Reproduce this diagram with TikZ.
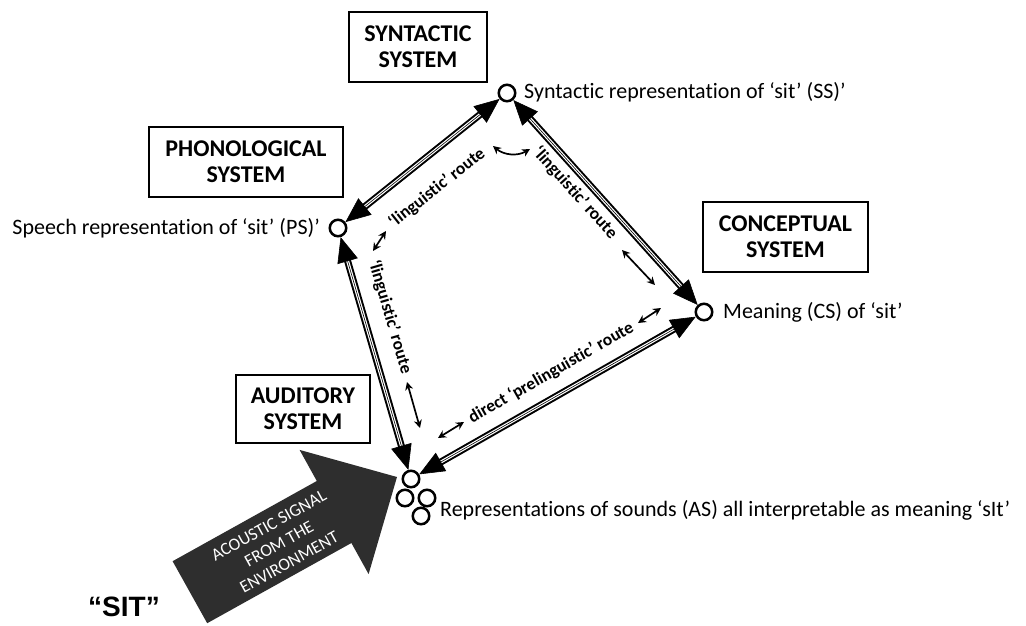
\documentclass[tikz,border=0pt]{standalone}
\usepackage{fontspec}
\setmainfont{Carlito}[Ligatures={TeX,NoCommon}]
\newfontfamily\heavyfont{Liberation Sans}
\usetikzlibrary{arrows.meta}
\begin{document}
\begin{tikzpicture}[x=1pt,y=-1pt,
  sysbox/.style={draw, line width=2, inner sep=0pt, align=center,
    font=\bfseries\fontsize{24}{26}\selectfont},
  circ/.style={circle, draw, line width=2.5, minimum size=16.5, inner sep=0pt, fill=white},
  reptext/.style={inner sep=0pt, font=\fontsize{22}{24}\selectfont},
  routetext/.style={inner sep=0pt, font=\bfseries\fontsize{17.5}{20}\selectfont},
  dblline/.style={line width=2, double=white, double distance=3, shorten <=20, shorten >=20},
  bigtips/.style={line width=0.6, {Triangle[length=25,width=21]}-{Triangle[length=25,width=21]}},
  smallarr/.style={line width=1.7, {Stealth[length=8,width=8]}-{Stealth[length=8,width=8]}}
]
\useasboundingbox (0,0) rectangle (1026,625);

% system boxes
\node[sysbox, minimum width=138, minimum height=70] (synbox) at (418,47) {SYNTACTIC\\SYSTEM};
\node[sysbox, minimum width=194, minimum height=70] (phobox) at (246,162) {PHONOLOGICAL\\SYSTEM};
\node[sysbox, minimum width=165, minimum height=70] (conbox) at (785.5,237) {CONCEPTUAL\\SYSTEM};
\node[sysbox, minimum width=134, minimum height=68] (audbox) at (303,409) {AUDITORY\\SYSTEM};

% representation circles
\node[circ] (ss) at (507,93) {};
\node[circ] (ps) at (338,228) {};
\node[circ] (cs) at (704,312) {};
\node[circ] (as1) at (411,479) {};
\node[circ] (as2) at (405,498) {};
\node[circ] (as3) at (427,498) {};
\node[circ] (as4) at (421,516) {};

% representation texts
\node[reptext, anchor=west] (sstext) at (524,92) {Syntactic representation of ‘sit’ (SS)’};
\node[reptext, anchor=east] (pstext) at (320,228) {Speech representation of ‘sit’ (PS)’};
\node[reptext, anchor=west] (cstext) at (723,312) {Meaning (CS) of ‘sit’};
\node[reptext, anchor=west] (astext) at (440,510) {Representations of sounds (AS) all interpretable as meaning ‘sIt’};

% double-line connectors
\draw[dblline] (ps) -- (ss);
\draw[dblline] (ss) -- (cs);
\draw[dblline] (ps) -- (as1);
\draw[dblline] (cs) -- (as1);
\draw[bigtips] (ps) -- (ss);
\draw[bigtips] (ss) -- (cs);
\draw[bigtips] (ps) -- (as1);
\draw[bigtips] (cs) -- (as1);

% route labels
\node[routetext, rotate=38.2] (r1) at (437,188) {‘linguistic’ route};
\node[routetext, rotate=-48] (r2) at (575,193) {‘linguistic’ route};
\node[routetext, rotate=-73.6] (r3) at (390,317) {‘linguistic’ route};
\node[routetext, rotate=29.7] (r4) at (551,373) {direct ‘prelinguistic’ route};

% small two-headed arrows
\coordinate (a1s) at (493,146); \coordinate (a1e) at (530,149);
\coordinate (a2s) at (373,251); \coordinate (a2e) at (386,231);
\coordinate (a3s) at (407,382); \coordinate (a3e) at (420,428);
\coordinate (a4s) at (438,438); \coordinate (a4e) at (464,422);
\coordinate (a5s) at (622,250); \coordinate (a5e) at (655,285);
\coordinate (a6s) at (638,323); \coordinate (a6e) at (661,308);
\draw[smallarr] (a1s) to[bend right=35] (a1e);
\draw[smallarr] (a2s) -- (a2e);
\draw[smallarr] (a3s) -- (a3e);
\draw[smallarr] (a4s) -- (a4e);
\draw[smallarr] (a5s) -- (a5e);
\draw[smallarr] (a6s) -- (a6e);

% big acoustic arrow
\fill[black!82] (397,477) -- (299.6,449.9) -- (316.8,481) -- (172.6,561.2)
  -- (207.2,623.2) -- (351.4,543) -- (368.6,574.1) -- cycle;
\node[text=white, rotate=29, align=center, inner sep=0pt,
  font=\fontsize{17.5}{21}\selectfont] (sigtext) at (279,544)
  {ACOUSTIC SIGNAL\\FROM THE\\ENVIRONMENT};

% SIT
\node[inner sep=0pt, font=\heavyfont\bfseries\fontsize{28}{30}\selectfont] (sit) at (124,607) {“SIT”};
\end{tikzpicture}
\end{document}
